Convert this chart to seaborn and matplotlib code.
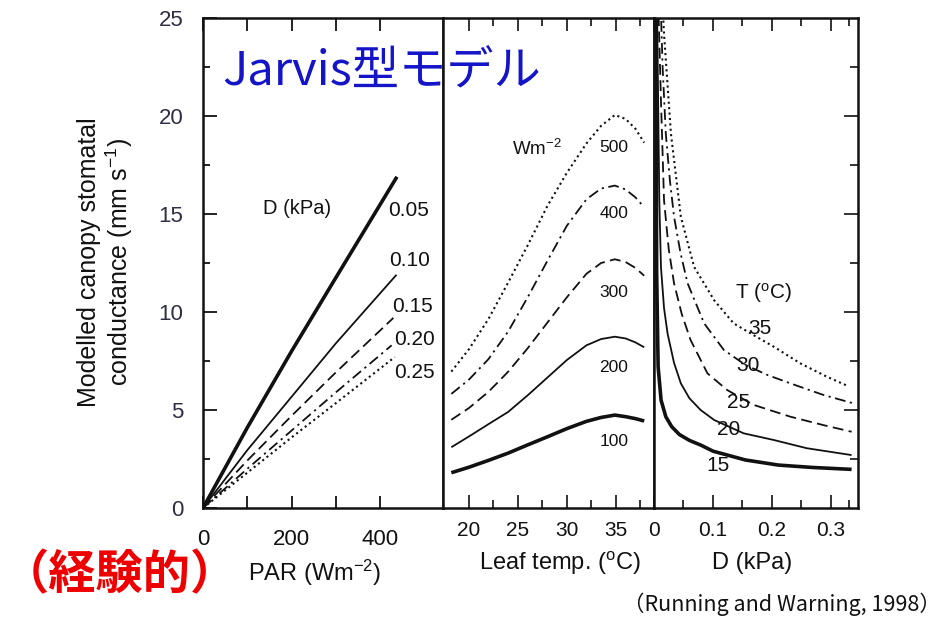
import matplotlib
matplotlib.use("Agg")
import matplotlib.pyplot as plt
import seaborn as sns
import pandas as pd

sns.set_style("ticks")
plt.rcParams["font.family"] = ["Liberation Sans", "Noto Sans CJK JP", "DejaVu Sans"]
plt.rcParams["mathtext.fontset"] = "custom"
plt.rcParams["mathtext.rm"] = "Liberation Sans"
plt.rcParams["mathtext.it"] = "Liberation Sans:italic"
plt.rcParams["mathtext.bf"] = "Liberation Sans:bold"

INK = "#111111"

# ---------------- data: panel 1 (PAR, lines for D in kPa) ----------------
d_labels = ["0.05", "0.10", "0.15", "0.20", "0.25"]
par_d05 = [0, 100, 200, 300, 438]
gs_d05 = [0, 4.1, 8.0, 11.75, 16.9]
par_d10 = [0, 100, 219, 300, 437]
gs_d10 = [0, 2.95, 6.19, 8.4, 11.9]
par_d15 = [0, 100, 200, 300, 430]
gs_d15 = [0, 2.42, 4.7, 6.92, 9.7]
par_d20 = [0, 100, 200, 300, 426]
gs_d20 = [0, 2.0, 3.95, 5.9, 8.3]
par_d25 = [0, 100, 200, 300, 433]
gs_d25 = [0, 1.8, 3.6, 5.35, 7.7]

# ---------------- data: panel 2 (leaf temperature, lines for PAR) ----------------
par_labels = ["500", "400", "300", "200", "100"]
temp = [18.2, 20.0, 22.0, 24.0, 26.0, 28.0, 30.0, 32.0, 33.5, 34.9, 36.0, 37.0, 37.9]
gs_p100 = [1.8, 2.08, 2.43, 2.8, 3.22, 3.63, 4.05, 4.42, 4.62, 4.74, 4.66, 4.56, 4.44]
gs_p200 = [3.1, 3.65, 4.28, 4.9, 5.75, 6.65, 7.55, 8.3, 8.62, 8.74, 8.65, 8.45, 8.2]
gs_p300 = [4.5, 5.1, 5.93, 6.95, 8.15, 9.45, 10.75, 11.95, 12.5, 12.69, 12.55, 12.25, 11.85]
gs_p400 = [5.82, 6.55, 7.6, 9.0, 10.75, 12.6, 14.4, 15.75, 16.3, 16.45, 16.25, 15.85, 15.34]
gs_p500 = [6.96, 8.1, 9.65, 11.5, 13.4, 15.4, 17.1, 18.6, 19.5, 20.05, 19.85, 19.35, 18.64]

# ---------------- data: panel 3 (D, lines for T in degC) ----------------
t_labels = ["35", "30", "25", "20", "15"]
d_t15 = [0.003, 0.0045, 0.007, 0.012, 0.02, 0.03, 0.043, 0.06, 0.08, 0.1, 0.155, 0.211, 0.268, 0.335]
gs_t15 = [26, 12.0, 7.2, 5.5, 4.66, 4.15, 3.75, 3.45, 3.2, 2.9, 2.45, 2.19, 2.07, 1.97]
d_t20 = [0.005, 0.009, 0.0118, 0.017, 0.023, 0.034, 0.0455, 0.06, 0.079, 0.102, 0.152, 0.203, 0.259, 0.335]
gs_t20 = [26, 15.7, 12.3, 10.2, 8.9, 7.4, 6.36, 5.6, 5.0, 4.49, 3.81, 3.47, 3.05, 2.70]
d_t25 = [0.007, 0.0118, 0.017, 0.025, 0.034, 0.047, 0.062, 0.0906, 0.124, 0.169, 0.231, 0.287, 0.335]
gs_t25 = [26, 20.8, 15.7, 13.2, 11.46, 9.9, 8.57, 6.87, 6.02, 5.26, 4.66, 4.23, 3.89]
d_t30 = [0.011, 0.0146, 0.020, 0.027, 0.034, 0.045, 0.057, 0.085, 0.1185, 0.155, 0.192, 0.231, 0.287, 0.338]
gs_t30 = [26, 22.5, 19.1, 16.7, 14.86, 13.0, 11.46, 9.42, 8.06, 7.3, 6.79, 6.36, 5.77, 5.34]
d_t35 = [0.014, 0.017, 0.0287, 0.0455, 0.068, 0.102, 0.135, 0.17, 0.203, 0.248, 0.293, 0.329]
gs_t35 = [26, 24.2, 19.1, 14.86, 12.3, 10.6, 9.42, 8.8, 8.23, 7.38, 6.70, 6.22]

y_ticks = [0, 5, 10, 15, 20, 25]

# line styles: thick solid, thin solid, dashed, dash-dot, dotted
STY = {
    "thick": dict(lw=2.6, linestyle="-"),
    "thin": dict(lw=1.3, linestyle="-"),
    "dash": dict(lw=1.3, linestyle=(0, (6, 3))),
    "dashdot": dict(lw=1.3, linestyle=(0, (6, 2.5, 1.2, 2.5))),
    "dot": dict(lw=1.5, linestyle=(0, (1, 1.6))),
}

W, H = 941, 618
fig = plt.figure(figsize=(W / 100, H / 100), dpi=100)


def fx(px):
    return px / W


def fy(py):
    return 1 - py / H


bottom, top = fy(508), fy(18)
ax1 = fig.add_axes([fx(203), bottom, fx(443) - fx(203), top - bottom])
ax2 = fig.add_axes([fx(443), bottom, fx(654) - fx(443), top - bottom])
ax3 = fig.add_axes([fx(654), bottom, fx(857.5) - fx(654), top - bottom])


def draw(ax, x, y, style):
    df = pd.DataFrame({"x": x, "y": y})
    sns.lineplot(data=df, x="x", y="y", ax=ax, color=INK, estimator=None,
                 solid_capstyle="butt", **STY[style])


# panel 1
for x, y, s in [(par_d05, gs_d05, "thick"), (par_d10, gs_d10, "thin"),
                (par_d15, gs_d15, "dash"), (par_d20, gs_d20, "dashdot"),
                (par_d25, gs_d25, "dot")]:
    draw(ax1, x, y, s)
# panel 2
for y, s in [(gs_p100, "thick"), (gs_p200, "thin"), (gs_p300, "dash"),
             (gs_p400, "dashdot"), (gs_p500, "dot")]:
    draw(ax2, temp, y, s)
# panel 3
for x, y, s in [(d_t15, gs_t15, "thick"), (d_t20, gs_t20, "thin"),
                (d_t25, gs_t25, "dash"), (d_t30, gs_t30, "dashdot"),
                (d_t35, gs_t35, "dot")]:
    draw(ax3, x, y, s)

for ax in (ax1, ax2, ax3):
    ax.set_ylim(0, 25)
    ax.set_xlabel("")
    ax.set_ylabel("")
    for sp in ax.spines.values():
        sp.set_visible(True)
        sp.set_linewidth(1.8)
        sp.set_color(INK)

ax1.set_xlim(0, 542)
ax2.set_xlim(17.35, 38.9)
ax3.set_xlim(0, 0.345)

# ticks panel 1
ax1.set_yticks(y_ticks, [str(v) for v in y_ticks])
ax1.set_yticks([2.5, 7.5, 12.5, 17.5, 22.5], minor=True)
ax1.set_xticks([0, 100, 200, 300, 400], ["0", "", "200", "", "400"])
ax1.tick_params(axis="y", which="both", direction="in", left=True, right=False,
                labelsize=16, pad=14, colors=INK, width=1.3)
ax1.tick_params(axis="y", labelcolor="#2e2e44")
ax1.tick_params(axis="y", which="major", length=10)
ax1.tick_params(axis="y", which="minor", length=5)
ax1.tick_params(axis="x", which="major", direction="in", top=True, bottom=True,
                length=9, width=1.3, labelsize=16, pad=15, colors=INK)

# ticks panel 2
ax2.set_yticks([])
ax2.set_xticks([20, 25, 30, 35], ["20", "25", "30", "35"])
ax2.set_xticks([22.5, 27.5, 32.5, 37.5], minor=True)
ax2.tick_params(axis="x", which="both", direction="in", top=True, bottom=True,
                width=1.2, labelsize=15, pad=9, colors=INK)
ax2.tick_params(axis="x", which="major", length=9.5)
ax2.tick_params(axis="x", which="minor", length=6)

# ticks panel 3
ax3.set_xticks([0, 0.1, 0.2, 0.3], ["0", "0.1", "0.2", "0.3"])
ax3.set_xticks([0.05, 0.15, 0.25, 0.33], minor=True)
ax3.tick_params(axis="x", which="both", direction="in", top=True, bottom=True,
                width=1.2, labelsize=15, pad=9, colors=INK)
ax3.tick_params(axis="x", which="major", length=9.5)
ax3.tick_params(axis="x", which="minor", length=6)
ax3.set_yticks([5, 10, 15, 20], [])
ax3.set_yticks([2.5, 7.5, 12.5, 17.5, 22.5], minor=True)
ax3.tick_params(axis="y", which="both", direction="in", left=False, right=True,
                labelleft=False, labelright=False, width=1.2, colors=INK)
ax3.tick_params(axis="y", which="major", length=10)
ax3.tick_params(axis="y", which="minor", length=6)

# in-panel labels, panel 1
ax1.text(212, 15.3, "D (kPa)", fontsize=14.5, color=INK, ha="center", va="center")
for lab, (xx, yy) in zip(d_labels, [(418, 15.2), (420, 12.65), (427, 10.3),
                                     (432, 8.6), (432, 6.9)]):
    ax1.text(xx, yy, lab, fontsize=15, color=INK, ha="left", va="center")

# panel 2
ax2.text(26.9, 18.3, "Wm$^{-2}$", fontsize=13.5, color=INK, ha="center", va="center")
for lab, yy in zip(par_labels, [18.37, 15.0, 11.02, 7.19, 3.37]):
    ax2.text(34.8, yy, lab, fontsize=12.5, color=INK, ha="center", va="center")

# panel 3
ax3.text(0.1855, 10.97, "T ($^{\\mathrm{o}}$C)", fontsize=15, color=INK, ha="center", va="center")
for lab, (xx, yy) in zip(t_labels, [(0.180, 9.15), (0.160, 7.27), (0.143, 5.4),
                                     (0.126, 3.98), (0.108, 2.19)]):
    ax3.text(xx, yy, lab, fontsize=15, color=INK, ha="center", va="center")

# axis titles
fig.text(fx(106), fy(262), "Modelled canopy stomatal\nconductance (mm s$^{-1}$)",
         rotation=90, fontsize=18, color=INK, ha="center", va="center",
         multialignment="center", linespacing=1.1)
fig.text(fx(315), fy(573), "PAR (Wm$^{-2}$)", fontsize=17, color=INK, ha="center", va="center")
fig.text(fx(560), fy(563), "Leaf temp. ($^{\\mathrm{o}}$C)", fontsize=17, color=INK,
         ha="center", va="center")
fig.text(fx(752), fy(563), "D (kPa)", fontsize=17, color=INK, ha="center", va="center")

# slide annotations
fig.text(fx(222), fy(72), "Jarvis型モデル", fontsize=34, color="#1414c8",
         family=["Noto Sans CJK JP"], ha="left", va="center")
fig.text(fx(120), fy(575), "（経験的）", fontsize=34, color="#ee0000", fontweight="bold",
         family=["Noto Sans CJK JP"], ha="center", va="center")
fig.text(fx(782), fy(604), "（Running and Warning, 1998）", fontsize=15.5, color=INK,
         family=["Noto Sans CJK JP"], ha="center", va="center")

fig.savefig("out.png", dpi=100)
